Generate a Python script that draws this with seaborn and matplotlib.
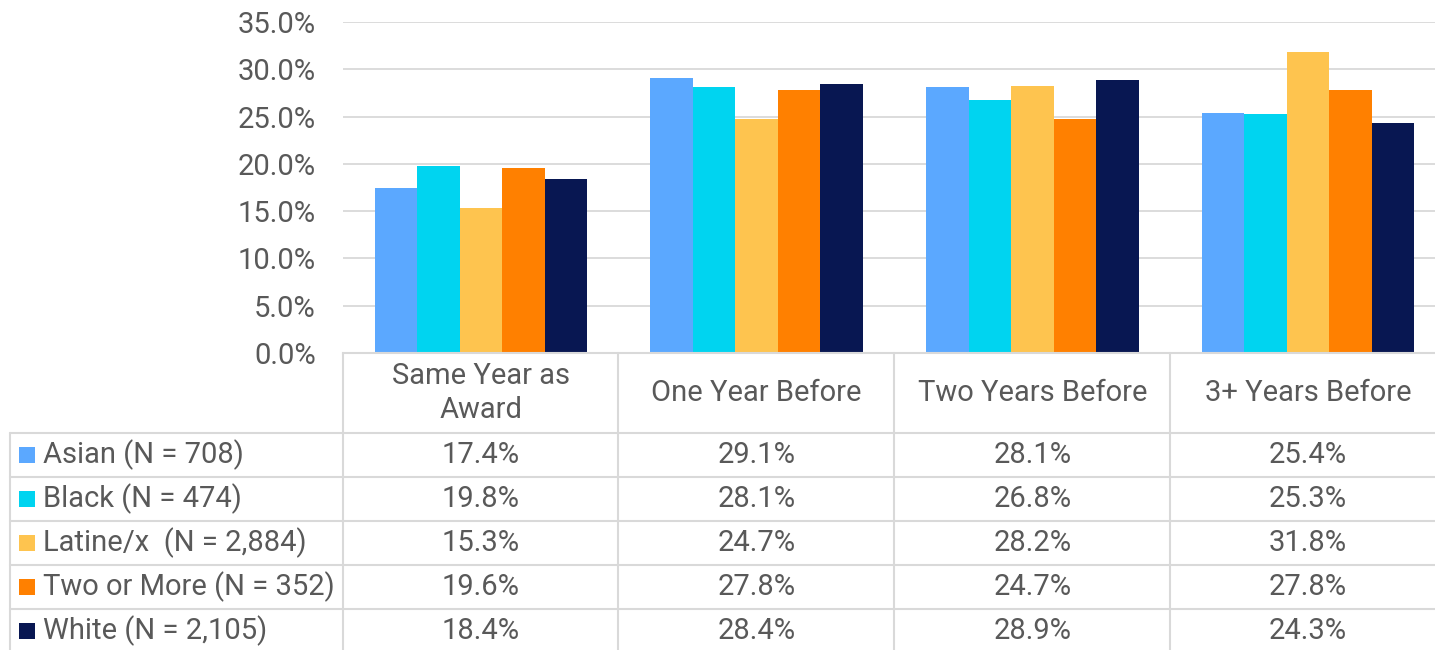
import pandas as pd
import matplotlib.pyplot as plt
import matplotlib.transforms as mtransforms
from matplotlib.patches import Rectangle
from matplotlib.lines import Line2D
import seaborn as sns

# --- Data ---
categories = ['Same Year as Award', 'One Year Before', 'Two Years Before', '3+ Years Before']
header_labels = ['Same Year as\nAward', 'One Year Before', 'Two Years Before', '3+ Years Before']
groups = ['Asian (N = 708)', 'Black (N = 474)', 'Latine/x  (N = 2,884)',
          'Two or More (N = 352)', 'White (N = 2,105)']
asian = [17.4, 29.1, 28.1, 25.4]
black = [19.8, 28.1, 26.8, 25.3]
latine = [15.3, 24.7, 28.2, 31.8]
two_or_more = [19.6, 27.8, 24.7, 27.8]
white = [18.4, 28.4, 28.9, 24.3]
colors = ['#5BA8FF', '#00D4F0', '#FEC44F', '#FF8000', '#081752']
yticks = [0, 5, 10, 15, 20, 25, 30, 35]

series = [asian, black, latine, two_or_more, white]
rows = []
for g, vals in zip(groups, series):
    for c, v in zip(categories, vals):
        rows.append({'Category': c, 'Group': g, 'Value': v})
df = pd.DataFrame(rows)

# --- Style ---
sns.set_style('white')
plt.rcParams['font.family'] = ['Roboto', 'DejaVu Sans']
TEXT = '#595959'
GRID = '#D9D9D9'
FS = 21

W, H = 1435, 650
fig = plt.figure(figsize=(W / 100, H / 100), dpi=100)


def fx(px):
    return px / W


def fy(py):
    return 1 - py / H


# plot area runs a little past the right edge of the picture, as in the original
ax = fig.add_axes([fx(343), fy(353), fx(1446) - fx(343), fy(22) - fy(353)])
sns.barplot(data=df, x='Category', y='Value', hue='Group', order=categories,
            hue_order=groups, palette=colors, width=0.77, saturation=1,
            linewidth=0, ax=ax, legend=False)

ax.set_ylim(0, 35)
ax.set_xlim(-0.5, 3.5)
ax.set_yticks(yticks)
ax.set_yticklabels([f'{t:.1f}%' for t in yticks], fontsize=FS, color=TEXT)
ax.tick_params(axis='y', length=0, pad=19.5)
ax.set_xticks([])
ax.set_xlabel('')
ax.set_ylabel('')
ax.yaxis.grid(True, color=GRID, linewidth=1.3)
ax.set_axisbelow(True)
for s in ['top', 'right', 'left']:
    ax.spines[s].set_visible(False)
ax.spines['bottom'].set_color(GRID)
ax.spines['bottom'].set_linewidth(1.5)

# --- Data table below the chart ---
col_bounds = [343, 618, 894, 1170]
row_bounds = [433, 477, 521, 565, 609, 653]

for x in col_bounds:
    fig.add_artist(Line2D([fx(x), fx(x)], [fy(353), fy(650)], color=GRID, lw=1.5))
fig.add_artist(Line2D([fx(10), fx(10)], [fy(433), fy(650)], color=GRID, lw=1.5))
for y in row_bounds[:-1]:
    fig.add_artist(Line2D([fx(10), fx(1435)], [fy(y), fy(y)], color=GRID, lw=1.5))

trans = mtransforms.blended_transform_factory(ax.transData, fig.transFigure)
for i, lab in enumerate(header_labels):
    ax.text(i, fy(393), lab, transform=trans, ha='center', va='center',
            fontsize=FS, color=TEXT, linespacing=1.3, clip_on=False)

for r, (g, vals, col) in enumerate(zip(groups, series, colors)):
    yc = (row_bounds[r] + row_bounds[r + 1]) / 2
    fig.add_artist(Rectangle((fx(19), fy(yc + 8)), fx(16), fy(yc - 8) - fy(yc + 8),
                             facecolor=col, edgecolor='none'))
    fig.text(fx(43), fy(yc), g, ha='left', va='center', fontsize=FS, color=TEXT)
    for i, v in enumerate(vals):
        ax.text(i, fy(yc), f'{v:.1f}%', transform=trans, ha='center', va='center',
                fontsize=FS, color=TEXT, clip_on=False)

fig.savefig('out.png', dpi=100)
